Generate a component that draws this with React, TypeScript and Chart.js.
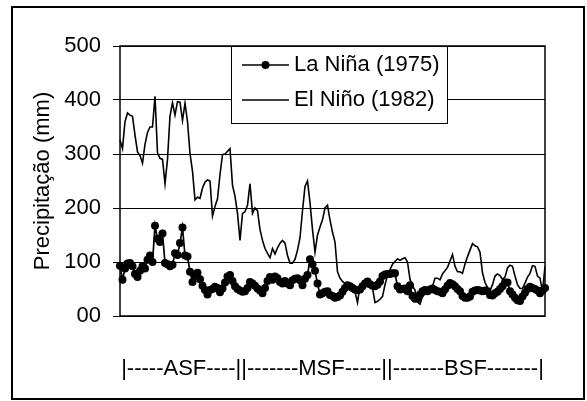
import React, { useEffect, useRef } from 'react';
import { Chart, registerables } from 'chart.js';

Chart.register(...registerables);

// Daily precipitation (mm) along the river stretches
const laNina1975 = [
  93, 67, 88, 97, 98, 92, 78, 72, 84, 92,
  88, 104, 112, 100, 167, 143, 137, 153, 98, 96,
  92, 95, 116, 113, 135, 164, 112, 110, 82, 63,
  75, 80, 68, 56, 48, 40, 48, 50, 54, 52,
  44, 51, 62, 73, 76, 65, 55, 50, 47, 45,
  46, 52, 63, 60, 56, 51, 47, 42, 52, 65,
  72, 67, 73, 70, 63, 60, 65, 60, 57, 66,
  69, 70, 66, 57, 69, 76, 105, 96, 84, 60,
  40, 42, 45, 46, 39, 37, 34, 35, 38, 45,
  52, 57, 55, 52, 49, 48, 49, 55, 60, 64,
  59, 56, 55, 58, 64, 74, 77, 78, 78, 79,
  79, 55, 49, 50, 51, 46, 57, 37, 32, 33,
  40, 46, 48, 46, 49, 51, 48, 46, 45, 42,
  49, 56, 61, 59, 55, 50, 46, 37, 34, 34,
  36, 45, 47, 48, 47, 46, 47, 46, 39, 38,
  42, 45, 50, 55, 62, 62, 46, 40, 34, 29,
  28, 36, 43, 50, 54, 52, 50, 47, 42, 47,
  52,
];

const elNino1982 = [
  326, 310, 360, 376, 372, 370, 335, 304, 297, 283,
  318, 340, 350, 350, 407, 302, 292, 290, 245, 290,
  370, 395, 372, 397, 396, 362, 394, 360, 301, 268,
  215, 220, 218, 237, 248, 252, 250, 185, 203, 217,
  262, 299, 300, 305, 310, 242, 222, 190, 140, 190,
  193, 205, 245, 190, 200, 195, 160, 140, 125, 116,
  108, 125, 115, 126, 135, 140, 135, 112, 98, 98,
  105, 122, 145, 195, 240, 250, 210, 160, 118, 150,
  165, 178, 200, 205, 178, 155, 137, 82, 70, 64,
  60, 57, 56, 52, 45, 25, 56, 58, 57, 55,
  54, 52, 25, 27, 31, 36, 58, 75, 86, 96,
  101, 106, 103, 106, 108, 100, 68, 55, 48, 26,
  22, 36, 41, 46, 50, 55, 70, 70, 67, 78,
  84, 90, 102, 114, 92, 82, 82, 79, 96, 110,
  122, 134, 130, 128, 118, 80, 62, 53, 47, 58,
  74, 78, 75, 68, 72, 89, 94, 92, 74, 58,
  51, 51, 61, 72, 79, 93, 92, 74, 70, 45,
  92,
];

const days = laNina1975.map((_, i) => String(i + 1));
const seriesLabels = ['La Niña (1975)', 'El Niño (1982)'];
const yMin = 0;
const yMax = 500;
const yStep = 100;
const xAxisLabel = '|-----ASF----||-------MSF-----||-------BSF-------|';
const yAxisLabel = 'Precipitação (mm)';

const FONT = "'Liberation Sans', Arial, sans-serif";
const W = 587;
const H = 401;

// Outer frame, plot-area frame and the boxed legend inside the plot
const framePlugin = {
  id: 'frames',
  afterDraw(chart: any) {
    const { ctx, chartArea } = chart;
    ctx.save();
    ctx.strokeStyle = '#000';
    ctx.lineWidth = 1.5;
    ctx.strokeRect(chartArea.left, chartArea.top, chartArea.right - chartArea.left, chartArea.bottom - chartArea.top);

    ctx.lineWidth = 2;
    ctx.strokeRect(12, 7, 572, 392);

    // legend box
    const lx = 231;
    const ly = 46;
    const lw = 216;
    const lh = 77;
    ctx.fillStyle = '#fff';
    ctx.fillRect(lx, ly, lw, lh);
    ctx.lineWidth = 1;
    ctx.strokeStyle = '#000';
    ctx.strokeRect(lx + 0.5, ly + 0.5, lw, lh);

    chart.data.datasets.forEach((ds: any, i: number) => {
      const cy = ly + 19 + i * 35;
      ctx.strokeStyle = ds.borderColor;
      ctx.lineWidth = ds.borderWidth;
      ctx.beginPath();
      ctx.moveTo(lx + 11, cy);
      ctx.lineTo(lx + 58, cy);
      ctx.stroke();
      if (ds.pointRadius > 0) {
        ctx.beginPath();
        ctx.arc(lx + 34.5, cy, ds.pointRadius, 0, Math.PI * 2);
        ctx.fillStyle = ds.pointBackgroundColor;
        ctx.fill();
      }
      ctx.fillStyle = '#000';
      ctx.font = `22px ${FONT}`;
      ctx.textBaseline = 'middle';
      ctx.textAlign = 'left';
      ctx.fillText(ds.label, lx + 63, cy);
    });
    ctx.restore();
  },
};

export default function App() {
  const canvasRef = useRef<HTMLCanvasElement | null>(null);

  useEffect(() => {
    const canvas = canvasRef.current;
    if (!canvas) return;
    const chart = new Chart(canvas, {
      type: 'line',
      data: {
        labels: days,
        datasets: [
          {
            label: seriesLabels[0],
            data: laNina1975,
            borderColor: '#000',
            borderWidth: 1.7,
            pointRadius: 4,
            pointBackgroundColor: '#000',
            pointBorderWidth: 0,
            tension: 0,
          },
          {
            label: seriesLabels[1],
            data: elNino1982,
            borderColor: '#000',
            borderWidth: 1.6,
            pointRadius: 0,
            tension: 0,
          },
        ],
      },
      options: {
        responsive: false,
        animation: false,
        devicePixelRatio: 1,
        layout: { padding: { left: 12, top: 46, right: 42, bottom: 0 } },
        plugins: {
          legend: { display: false },
          tooltip: { enabled: false },
        },
        scales: {
          x: {
            type: 'category',
            offset: false,
            grid: { display: false, drawTicks: false },
            border: { display: false },
            ticks: { display: false },
            title: {
              display: true,
              text: xAxisLabel,
              color: '#000',
              font: { family: FONT, size: 22 },
              padding: { top: 0, bottom: 19 },
            },
            afterFit(scale: any) {
              scale.height = 85;
            },
          },
          y: {
            min: yMin,
            max: yMax,
            ticks: {
              stepSize: yStep,
              color: '#000',
              padding: 12,
              font: { family: FONT, size: 22 },
              callback: (v: any) => (Number(v) === 0 ? '00' : String(v)),
            },
            grid: { color: '#000', lineWidth: 1, tickLength: 7, drawTicks: true },
            border: { display: false },
            title: {
              display: true,
              text: yAxisLabel,
              color: '#000',
              font: { family: FONT, size: 22 },
              padding: { top: 18, bottom: 0 },
            },
            afterFit(scale: any) {
              scale.width = 108;
            },
          },
        },
      },
      plugins: [framePlugin],
    });
    return () => chart.destroy();
  }, []);

  return (
    <div style={{ position: 'fixed', left: 0, top: 0, width: W, height: H, background: '#fff' }}>
      <canvas ref={canvasRef} width={W} height={H} style={{ display: 'block' }} />
    </div>
  );
}
